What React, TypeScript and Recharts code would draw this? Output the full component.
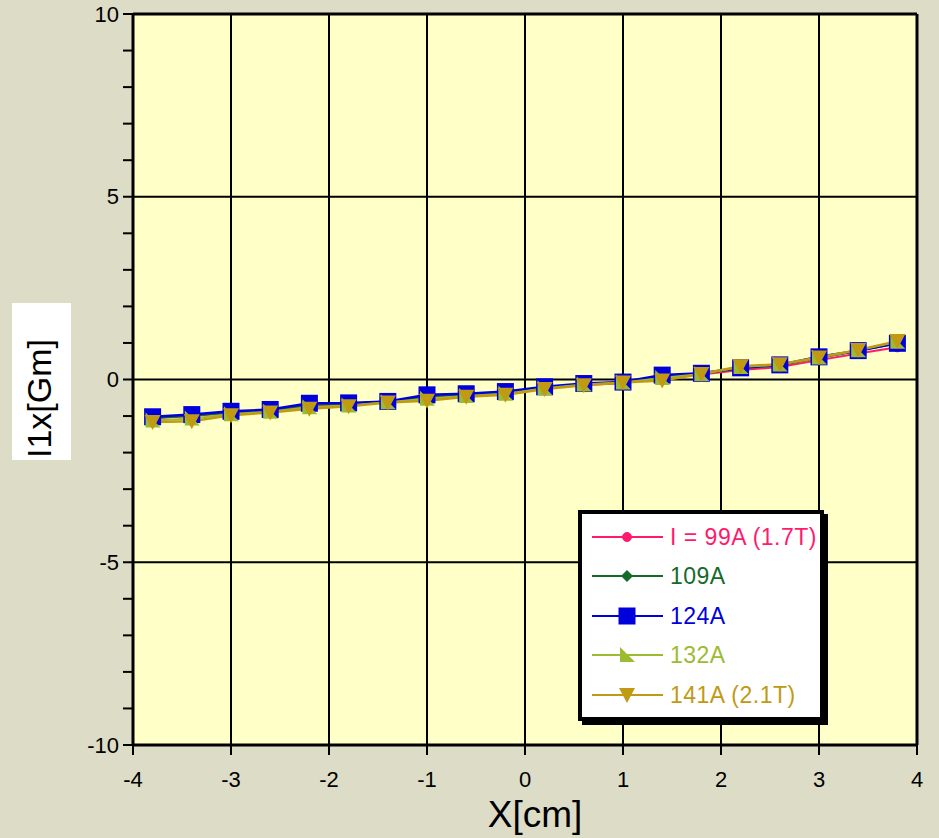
import React from "react";
import {
  LineChart,
  Line,
  XAxis,
  YAxis,
  CartesianGrid,
  ReferenceLine,
  Legend,
} from "recharts";

const xValues = [-3.8, -3.4, -3.0, -2.6, -2.2, -1.8, -1.4, -1.0, -0.6, -0.2, 0.2, 0.6, 1.0, 1.4, 1.8, 2.2, 2.6, 3.0, 3.4, 3.8];
const i99 = [-1.06, -1.0, -0.92, -0.86, -0.71, -0.68, -0.62, -0.47, -0.42, -0.36, -0.24, -0.15, -0.1, 0.08, 0.14, 0.26, 0.34, 0.53, 0.71, 0.88];
const i109 = [-1.05, -0.99, -0.9, -0.84, -0.69, -0.66, -0.6, -0.46, -0.41, -0.35, -0.22, -0.13, -0.08, 0.1, 0.16, 0.3, 0.39, 0.59, 0.78, 0.99];
const i124 = [-1.02, -0.96, -0.87, -0.82, -0.65, -0.64, -0.6, -0.42, -0.39, -0.33, -0.2, -0.11, -0.07, 0.12, 0.17, 0.32, 0.4, 0.62, 0.79, 0.99];
const i132 = [-1.12, -1.07, -0.95, -0.88, -0.76, -0.71, -0.62, -0.53, -0.45, -0.39, -0.24, -0.14, -0.08, 0.04, 0.15, 0.34, 0.41, 0.6, 0.8, 1.03];
const i141 = [-1.16, -1.14, -0.98, -0.9, -0.8, -0.73, -0.63, -0.58, -0.47, -0.42, -0.26, -0.16, -0.08, -0.03, 0.15, 0.36, 0.42, 0.6, 0.81, 1.05];

const seriesNames = ["I = 99A (1.7T)", "109A", "124A", "132A", "141A (2.1T)"];
const seriesKeys = ["i99", "i109", "i124", "i132", "i141"];
const seriesColors = ["#ff1a6e", "#136b2a", "#0000dd", "#9cbb30", "#bf9a12"];
const seriesWidths = [2, 2, 2.5, 2, 2.5];
const xTicks = [-4, -3, -2, -1, 0, 1, 2, 3, 4];
const yTicks = [-10, -9, -8, -7, -6, -5, -4, -3, -2, -1, 0, 1, 2, 3, 4, 5, 6, 7, 8, 9, 10];
const yGridValues = [-5, 0, 5, 10];

const data = xValues.map((x, i) => ({
  x,
  i99: i99[i],
  i109: i109[i],
  i124: i124[i],
  i132: i132[i],
  i141: i141[i],
}));

const FONT = "'Liberation Sans', Arial, sans-serif";
const PAGE_BG = "#dddcc6";
const PLOT_BG = "#ffffc8";

function markerShape(kind: number, cx: number, cy: number, color: string, key?: any) {
  switch (kind) {
    case 0:
      return <circle key={key} cx={cx} cy={cy} r={4.5} fill={color} stroke={color} />;
    case 1:
      return (
        <polygon
          key={key}
          points={`${cx},${cy - 6} ${cx + 6},${cy} ${cx},${cy + 6} ${cx - 6},${cy}`}
          fill={color}
        />
      );
    case 2:
      return <rect key={key} x={cx - 8.5} y={cy - 8.5} width={17} height={17} fill={color} />;
    case 3:
      return (
        <polygon
          key={key}
          points={`${cx - 7},${cy - 8} ${cx - 7},${cy + 7} ${cx + 8},${cy + 7}`}
          fill={color}
        />
      );
    default:
      return (
        <polygon
          key={key}
          points={`${cx - 8},${cy - 7} ${cx + 8},${cy - 7} ${cx},${cy + 8}`}
          fill={color}
        />
      );
  }
}

const makeDot = (kind: number, color: string) => (props: any) => {
  const { cx, cy, index } = props;
  if (cx == null || cy == null) return <g key={`n-${index}`} />;
  return markerShape(kind, cx, cy, color, `d-${kind}-${index}`);
};

const YTick = (props: any) => {
  const { x, y, payload } = props;
  if (payload.value % 5 !== 0) return <g />;
  return (
    <text x={x} y={y} dy="0.35em" textAnchor="end" fontSize={22} fontFamily={FONT} fill="#000">
      {payload.value}
    </text>
  );
};

const XTick = (props: any) => {
  const { x, y, payload } = props;
  return (
    <text x={x} y={y} dy="0.71em" textAnchor="middle" fontSize={22} fontFamily={FONT} fill="#000">
      {payload.value}
    </text>
  );
};

const YLabel = () => (
  <g>
    <rect x={12} y={303} width={59} height={157} fill="#ffffff" />
    <text
      transform="translate(51,458) rotate(-90)"
      x={0}
      y={0}
      textAnchor="start"
      fontSize={34}
      fontFamily={FONT}
      fill="#000"
    >
      I1x[Gm]
    </text>
  </g>
);

const XLabel = () => (
  <text x={535} y={827} textAnchor="middle" fontSize={37} fontFamily={FONT} fill="#000">
    X[cm]
  </text>
);

const LegendBox = () => {
  const rows = [23, 62, 102, 141, 181];
  return (
    <div
      style={{
        width: 246,
        height: 211,
        boxSizing: "border-box",
        border: "4px solid #000",
        boxShadow: "4px 4px 0 #000",
        background: "#ffffff",
      }}
    >
      <svg width={238} height={203} style={{ display: "block" }}>
        {seriesNames.map((name, i) => (
          <g key={name}>
            <line x1={10} x2={81} y1={rows[i]} y2={rows[i]} stroke={seriesColors[i]} strokeWidth={2} />
            {markerShape(i, 45, rows[i], seriesColors[i])}
            <text
              x={88}
              y={rows[i]}
              dy="0.36em"
              fontSize={23}
              letterSpacing={0.5}
              fontFamily={FONT}
              fill={seriesColors[i]}
            >
              {name}
            </text>
          </g>
        ))}
      </svg>
    </div>
  );
};

export default function App() {
  return (
    <div
      style={{
        position: "absolute",
        left: 0,
        top: 0,
        width: 939,
        height: 838,
        background: PAGE_BG,
        fontFamily: FONT,
      }}
    >
      <LineChart
        width={939}
        height={838}
        data={data}
        margin={{ top: 14, right: 22, bottom: 0, left: 0 }}
      >
        <CartesianGrid
          horizontal={false}
          vertical={true}
          stroke="#000"
          strokeWidth={2}
          fill={PLOT_BG}
          fillOpacity={1}
        />
        <XAxis
          dataKey="x"
          type="number"
          domain={[-4, 4]}
          ticks={xTicks}
          height={93}
          tickSize={10}
          tickMargin={16}
          axisLine={{ stroke: "#000", strokeWidth: 3 }}
          tickLine={{ stroke: "#000", strokeWidth: 2 }}
          tick={<XTick />}
          label={<XLabel />}
          allowDataOverflow
        />
        <YAxis
          type="number"
          domain={[-10, 10]}
          ticks={yTicks}
          width={133}
          tickSize={10}
          tickMargin={4}
          interval={0}
          axisLine={{ stroke: "#000", strokeWidth: 3 }}
          tickLine={{ stroke: "#000", strokeWidth: 2 }}
          tick={<YTick />}
          label={<YLabel />}
          allowDataOverflow
        />
        {yGridValues.map((v) => (
          <ReferenceLine key={v} y={v} stroke="#000" strokeWidth={v === 10 ? 3 : 2} />
        ))}
        <ReferenceLine x={4} stroke="#000" strokeWidth={3} />
        {seriesKeys.map((k, i) => (
          <Line
            key={k}
            dataKey={k}
            name={seriesNames[i]}
            stroke={seriesColors[i]}
            strokeWidth={seriesWidths[i]}
            dot={makeDot(i, seriesColors[i])}
            activeDot={false}
            isAnimationActive={false}
          />
        ))}
        <Legend
          layout="horizontal"
          verticalAlign="middle"
          align="center"
          content={<LegendBox />}
          wrapperStyle={{ position: "absolute", left: 578, top: 510, width: 250, height: 215 }}
        />
      </LineChart>
    </div>
  );
}
